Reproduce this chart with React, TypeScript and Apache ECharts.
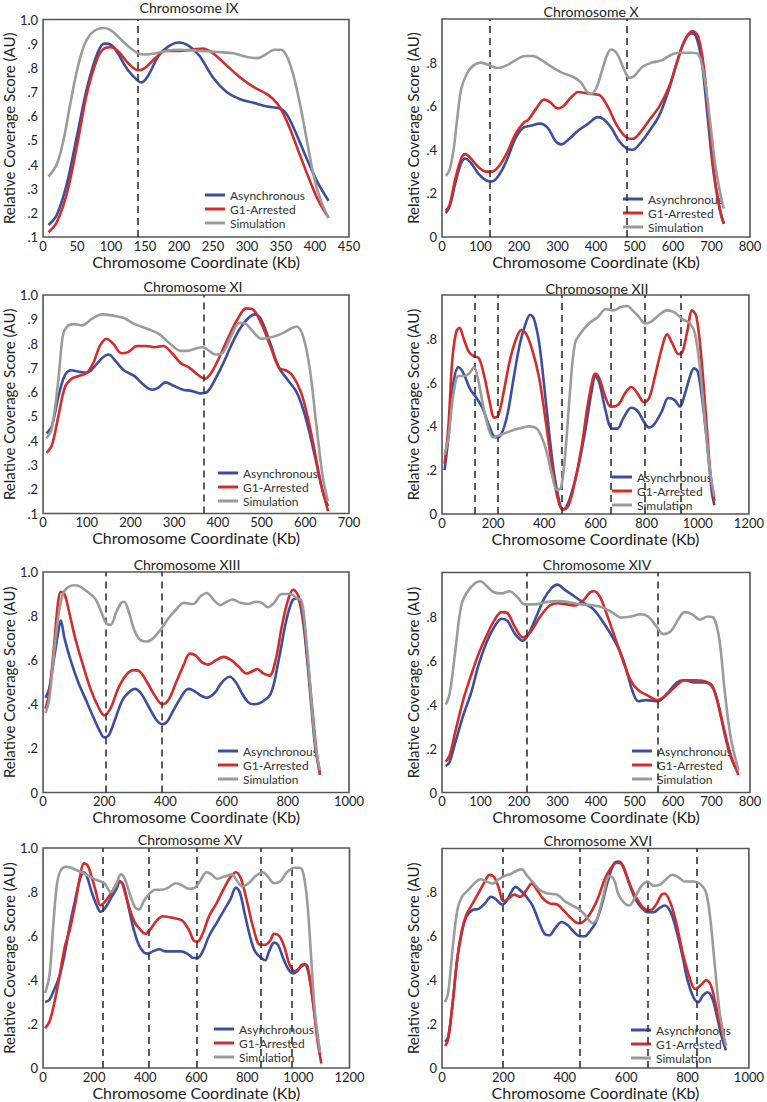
import React, { useEffect, useRef } from 'react';
import * as echarts from 'echarts';

// ---------- data ----------
const seriesNames = ['Asynchronous', 'G1-Arrested', 'Simulation'];
const chromTitles = ['Chromosome IX', 'Chromosome X', 'Chromosome XI', 'Chromosome XII', 'Chromosome XIII', 'Chromosome XIV', 'Chromosome XV', 'Chromosome XVI'];
const xMaxes = [450, 800, 700, 1200, 1000, 800, 1200, 1000];
const xIntervals = [50, 100, 100, 200, 200, 100, 200, 200];
const yMins = [0.1, 0, 0.1, 0, 0, 0, 0, 0];
const yIntervals = [0.1, 0.2, 0.1, 0.2, 0.2, 0.2, 0.2, 0.2];
const showTopLabel = [true, false, true, false, true, false, true, false];
const xAxisName = 'Chromosome Coordinate (Kb)';
const yAxisName = 'Relative Coverage Score (AU)';

const dashIX = [140];
const dashX = [123, 481];
const dashXI = [368];
const dashXII = [128, 218, 468, 661, 792, 932];
const dashXIII = [206, 388];
const dashXIV = [219, 561];
const dashXV = [233, 415, 603, 853, 973];
const dashXVI = [199, 449, 669, 830];

const asyncIX = [[8,.15],[20,.19],[35,.32],[50,.52],[65,.72],[80,.86],[90,.9],[100,.895],[110,.86],[125,.79],[140,.745],[145,.74],[155,.77],[170,.85],[185,.89],[200,.905],[215,.89],[230,.85],[250,.76],[270,.7],[290,.67],[310,.655],[330,.64],[350,.63],[360,.6],[375,.51],[390,.41],[405,.32],[420,.25]];
const g1IX = [[8,.12],[20,.16],[35,.28],[50,.48],[65,.7],[80,.84],[90,.88],[100,.885],[110,.87],[125,.82],[140,.79],[150,.8],[165,.84],[180,.87],[200,.87],[220,.875],[235,.88],[250,.86],[270,.81],[290,.76],[310,.72],[330,.69],[345,.65],[360,.57],[375,.46],[390,.35],[405,.25],[420,.18]];
const simIX = [[8,.35],[20,.4],[30,.5],[40,.65],[50,.79],[60,.89],[70,.94],[80,.96],[90,.965],[100,.955],[110,.93],[125,.89],[140,.86],[150,.855],[165,.86],[180,.87],[200,.875],[230,.87],[260,.865],[280,.86],[300,.845],[315,.84],[330,.86],[340,.875],[350,.875],[360,.84],[370,.75],[380,.62],[390,.47],[400,.33],[410,.24],[420,.18]];

const asyncX = [[10,.11],[20,.14],[35,.25],[50,.34],[60,.36],[75,.34],[95,.29],[115,.26],[130,.255],[150,.29],[170,.36],[190,.45],[210,.5],[230,.51],[255,.52],[275,.5],[295,.44],[310,.425],[330,.45],[355,.49],[380,.52],[405,.55],[420,.54],[440,.5],[460,.44],[480,.405],[495,.4],[515,.43],[540,.49],[565,.56],[590,.68],[610,.8],[630,.9],[648,.935],[660,.92],[675,.8],[690,.55],[705,.3],[720,.14],[732,.06]];
const g1X = [[10,.12],[20,.15],[35,.27],[50,.36],[60,.38],[75,.36],[95,.32],[115,.3],[130,.3],[150,.33],[170,.39],[190,.47],[210,.52],[225,.54],[245,.59],[265,.63],[280,.62],[300,.59],[315,.6],[335,.64],[355,.665],[375,.66],[395,.655],[410,.65],[430,.6],[455,.51],[480,.455],[495,.45],[515,.48],[540,.54],[565,.6],[590,.69],[610,.8],[630,.9],[650,.945],[665,.92],[680,.78],[695,.5],[710,.25],[725,.1],[732,.06]];
const simX = [[10,.28],[20,.31],[30,.4],[40,.55],[50,.68],[65,.75],[80,.785],[100,.8],[120,.79],[145,.775],[165,.785],[190,.81],[215,.83],[235,.83],[260,.81],[285,.78],[310,.755],[340,.735],[360,.71],[375,.67],[385,.655],[400,.68],[415,.76],[430,.84],[440,.86],[455,.84],[470,.78],[487,.73],[500,.74],[520,.78],[545,.8],[570,.81],[600,.84],[630,.845],[650,.845],[665,.84],[680,.75],[695,.55],[710,.33],[725,.18],[732,.13]];

const asyncXI = [[8,.43],[20,.46],[35,.58],[50,.67],[65,.69],[80,.685],[100,.68],[115,.7],[135,.74],[150,.755],[165,.73],[185,.69],[210,.665],[230,.63],[250,.61],[265,.62],[280,.64],[300,.625],[320,.61],[340,.605],[360,.595],[375,.6],[390,.64],[410,.71],[430,.79],[450,.86],[470,.905],[485,.92],[500,.895],[520,.8],[540,.7],[560,.65],[580,.6],[595,.53],[610,.43],[625,.31],[640,.19],[652,.13]];
const g1XI = [[8,.35],[20,.38],[35,.5],[50,.62],[65,.655],[80,.665],[100,.68],[115,.72],[130,.79],[145,.82],[160,.8],[180,.76],[195,.765],[215,.79],[235,.79],[255,.785],[275,.79],[295,.76],[315,.72],[335,.7],[355,.67],[370,.655],[385,.68],[405,.75],[425,.83],[445,.9],[465,.945],[480,.94],[500,.88],[520,.79],[540,.7],[555,.69],[570,.67],[590,.6],[605,.5],[620,.37],[635,.23],[652,.11]];
const simXI = [[8,.41],[20,.45],[35,.65],[45,.83],[55,.87],[70,.88],[90,.875],[110,.9],[135,.92],[160,.915],[185,.905],[210,.88],[240,.86],[265,.84],[290,.8],[315,.77],[330,.77],[350,.78],[365,.785],[380,.77],[395,.755],[410,.76],[430,.83],[450,.885],[465,.88],[480,.85],[500,.82],[520,.825],[545,.84],[565,.86],[580,.87],[595,.83],[610,.7],[625,.47],[640,.25],[652,.15]];

const asyncXII = [[10,.2],[25,.35],[45,.6],[65,.67],[85,.64],[110,.57],[135,.53],[160,.48],[185,.4],[210,.35],[230,.36],[255,.45],[280,.62],[305,.78],[330,.88],[345,.91],[360,.89],[380,.78],[400,.58],[420,.36],[440,.17],[460,.05],[470,.02],[485,.03],[505,.09],[530,.2],[560,.38],[585,.56],[600,.63],[615,.6],[640,.47],[665,.39],[685,.39],[710,.44],[740,.485],[765,.47],[790,.42],[810,.395],[830,.41],[860,.47],[885,.53],[910,.52],[930,.49],[950,.55],[970,.63],[985,.665],[1000,.65],[1020,.5],[1040,.28],[1055,.1],[1065,.04]];
const g1XII = [[10,.23],[25,.4],[40,.7],[55,.83],[68,.85],[85,.8],[105,.74],[125,.72],[145,.71],[165,.63],[185,.52],[205,.44],[220,.45],[240,.55],[265,.7],[290,.8],[310,.84],[330,.82],[355,.74],[380,.62],[400,.47],[420,.3],[440,.14],[460,.04],[475,.02],[495,.04],[520,.15],[545,.3],[570,.5],[590,.62],[600,.64],[615,.62],[640,.53],[660,.49],[690,.5],[715,.55],[740,.58],[765,.55],[790,.51],[810,.53],[835,.64],[860,.76],[880,.82],[900,.78],[925,.73],[940,.74],[960,.84],[978,.93],[995,.9],[1015,.7],[1035,.4],[1050,.18],[1065,.06]];
const simXII = [[10,.27],[25,.35],[45,.55],[65,.63],[85,.63],[105,.64],[125,.67],[140,.62],[160,.5],[180,.4],[200,.35],[225,.36],[260,.375],[300,.39],[340,.4],[370,.39],[390,.35],[410,.28],[430,.18],[450,.11],[465,.12],[480,.25],[500,.55],[520,.78],[545,.83],[575,.87],[610,.9],[640,.935],[670,.93],[700,.945],[725,.95],[745,.93],[770,.9],[795,.87],[820,.88],[850,.91],[880,.93],[910,.92],[940,.89],[970,.87],[990,.82],[1010,.65],[1030,.4],[1050,.18],[1065,.08]];

const asyncXIII = [[8,.43],[20,.47],[35,.6],[50,.73],[58,.78],[70,.7],[90,.6],[115,.5],[140,.42],[165,.34],[185,.28],[200,.25],[215,.26],[235,.33],[260,.42],[285,.46],[300,.47],[320,.45],[345,.39],[370,.33],[390,.31],[405,.32],[425,.37],[450,.43],[475,.47],[495,.46],[515,.44],[535,.43],[560,.45],[585,.5],[610,.525],[630,.5],[650,.45],[670,.41],[690,.4],[715,.41],[745,.45],[770,.6],[795,.78],[815,.87],[830,.88],[845,.82],[860,.65],[875,.42],[890,.2],[905,.09]];
const g1XIII = [[8,.38],[20,.45],[35,.65],[48,.85],[58,.91],[70,.9],[85,.82],[105,.7],[130,.58],[155,.47],[180,.39],[200,.35],[220,.38],[245,.47],[270,.53],[295,.555],[315,.55],[340,.5],[365,.44],[390,.4],[410,.42],[435,.5],[460,.58],[480,.63],[500,.62],[520,.59],[540,.58],[565,.6],[590,.615],[615,.6],[640,.57],[665,.54],[685,.55],[700,.56],[720,.54],[740,.53],[760,.6],[780,.75],[800,.87],[818,.92],[835,.89],[850,.8],[865,.6],[880,.38],[895,.17],[905,.08]];
const simXIII = [[8,.36],[20,.42],[35,.62],[50,.8],[65,.9],[80,.93],[100,.94],[120,.935],[145,.91],[170,.88],[190,.82],[205,.77],[220,.76],[240,.82],[255,.86],[265,.865],[280,.82],[300,.73],[320,.69],[340,.685],[360,.7],[385,.74],[410,.79],[435,.83],[460,.86],[490,.855],[515,.89],[535,.905],[560,.87],[580,.85],[600,.865],[620,.875],[645,.86],[670,.855],[695,.865],[715,.86],[735,.84],[755,.86],[780,.9],[810,.9],[830,.88],[845,.87],[860,.7],[875,.45],[890,.22],[905,.1]];

const asyncXIV = [[10,.12],[20,.14],[35,.23],[55,.35],[75,.45],[95,.58],[115,.68],[135,.75],[155,.79],[170,.78],[190,.72],[210,.69],[225,.72],[245,.8],[265,.88],[285,.93],[300,.945],[320,.92],[345,.89],[370,.86],[395,.83],[420,.77],[445,.7],[465,.63],[480,.55],[495,.46],[510,.415],[530,.42],[560,.415],[585,.45],[610,.5],[630,.51],[655,.5],[680,.5],[700,.49],[715,.42],[730,.3],[745,.19],[760,.12],[770,.1]];
const g1XIV = [[10,.14],[20,.17],[35,.28],[55,.42],[75,.53],[95,.63],[115,.71],[135,.78],[155,.82],[170,.815],[190,.75],[210,.705],[230,.73],[255,.8],[280,.85],[300,.86],[325,.855],[345,.85],[365,.87],[385,.91],[395,.915],[410,.89],[430,.8],[450,.7],[470,.6],[490,.51],[510,.465],[535,.44],[560,.42],[580,.44],[605,.48],[630,.51],[660,.51],[690,.5],[705,.47],[720,.38],[735,.27],[750,.17],[770,.08]];
const simXIV = [[10,.4],[20,.45],[35,.65],[50,.85],[65,.91],[85,.95],[100,.96],[115,.94],[135,.91],[155,.905],[175,.915],[195,.89],[215,.855],[240,.855],[270,.865],[300,.87],[330,.865],[360,.855],[395,.85],[420,.84],[445,.815],[465,.795],[490,.8],[515,.81],[535,.8],[555,.76],[575,.72],[595,.735],[615,.79],[630,.82],[650,.81],[670,.785],[690,.8],[705,.795],[720,.7],[735,.45],[750,.25],[770,.1]];

const asyncXV = [[8,.3],[25,.31],[45,.36],[65,.42],[85,.52],[105,.65],[125,.76],[145,.86],[160,.89],[175,.86],[190,.8],[210,.74],[225,.71],[245,.73],[265,.77],[290,.82],[300,.85],[315,.83],[335,.73],[355,.63],[375,.56],[395,.525],[410,.52],[430,.53],[455,.54],[480,.53],[510,.53],[540,.53],[565,.52],[590,.5],[605,.5],[625,.53],[650,.6],[680,.66],[710,.72],[735,.77],[755,.82],[770,.8],[790,.7],[810,.6],[830,.53],[855,.5],[870,.49],[885,.53],[905,.57],[920,.56],[940,.5],[960,.45],[980,.43],[995,.44],[1010,.46],[1025,.47],[1040,.43],[1055,.32],[1070,.18],[1085,.06]];
const g1XV = [[8,.18],[25,.21],[45,.3],[65,.42],[85,.55],[105,.63],[125,.74],[145,.87],[160,.93],[175,.92],[190,.87],[205,.81],[225,.74],[245,.76],[270,.8],[290,.84],[305,.845],[320,.8],[340,.72],[360,.66],[380,.63],[400,.61],[420,.63],[445,.67],[470,.69],[495,.685],[520,.68],[545,.67],[570,.63],[590,.58],[605,.575],[625,.61],[650,.69],[680,.75],[710,.82],[735,.87],[755,.89],[775,.86],[800,.75],[825,.63],[850,.56],[870,.56],[890,.58],[905,.61],[925,.6],[945,.55],[965,.47],[985,.44],[1000,.45],[1015,.47],[1030,.47],[1045,.4],[1060,.27],[1075,.12],[1090,.02]];
const simXV = [[8,.34],[25,.42],[40,.65],[55,.84],[70,.9],[90,.915],[110,.91],[130,.9],[150,.89],[175,.875],[200,.86],[220,.85],[240,.84],[265,.8],[285,.83],[305,.88],[320,.86],[340,.79],[360,.73],[375,.72],[395,.76],[415,.79],[440,.81],[465,.81],[490,.82],[520,.84],[545,.83],[570,.815],[595,.82],[615,.85],[640,.89],[660,.88],[680,.86],[710,.87],[740,.88],[760,.85],[780,.825],[805,.84],[835,.875],[860,.89],[880,.87],[905,.84],[930,.85],[955,.89],[985,.91],[1005,.91],[1020,.88],[1035,.75],[1050,.5],[1065,.25],[1085,.07]];

const asyncXVI = [[10,.12],[20,.14],[35,.3],[50,.5],[65,.62],[80,.69],[100,.72],[120,.725],[140,.75],[160,.78],[175,.77],[195,.745],[210,.76],[225,.8],[240,.825],[255,.81],[275,.78],[295,.74],[315,.67],[335,.61],[350,.605],[370,.64],[390,.665],[410,.65],[430,.62],[450,.6],[465,.6],[480,.62],[500,.66],[520,.74],[540,.85],[560,.93],[575,.94],[590,.92],[610,.84],[630,.77],[650,.73],[670,.71],[690,.71],[710,.73],[725,.74],[745,.71],[765,.62],[785,.5],[800,.4],[820,.32],[835,.3],[850,.33],[865,.345],[880,.32],[895,.24],[910,.15],[925,.08]];
const g1XVI = [[10,.1],[20,.13],[35,.3],[50,.5],[65,.63],[80,.7],[100,.75],[120,.8],[140,.85],[155,.88],[170,.87],[185,.82],[200,.76],[215,.77],[235,.79],[255,.78],[275,.81],[292,.84],[310,.81],[330,.77],[350,.75],[375,.745],[395,.72],[415,.69],[435,.665],[450,.66],[470,.68],[490,.72],[510,.78],[530,.86],[550,.91],[570,.935],[585,.93],[600,.88],[620,.81],[640,.76],[660,.725],[680,.72],[700,.75],[715,.79],[725,.795],[745,.75],[765,.65],[785,.52],[805,.42],[825,.36],[845,.38],[860,.4],[875,.38],[890,.3],[905,.2],[925,.1]];
const simXVI = [[10,.3],[20,.34],[35,.55],[50,.72],[65,.78],[85,.81],[105,.84],[125,.86],[145,.85],[165,.84],[185,.86],[205,.875],[225,.885],[245,.9],[260,.905],[275,.88],[300,.84],[320,.81],[345,.795],[375,.79],[400,.76],[425,.74],[450,.72],[470,.69],[490,.66],[505,.68],[525,.78],[545,.875],[560,.86],[575,.79],[595,.75],[610,.74],[630,.78],[650,.83],[670,.85],[690,.83],[710,.835],[730,.86],[750,.88],[770,.87],[790,.85],[820,.85],[840,.84],[860,.8],[875,.67],[890,.45],[905,.25],[925,.1]];

const asyncAll = [asyncIX, asyncX, asyncXI, asyncXII, asyncXIII, asyncXIV, asyncXV, asyncXVI];
const g1All = [g1IX, g1X, g1XI, g1XII, g1XIII, g1XIV, g1XV, g1XVI];
const simAll = [simIX, simX, simXI, simXII, simXIII, simXIV, simXV, simXVI];
const dashAll = [dashIX, dashX, dashXI, dashXII, dashXIII, dashXIV, dashXV, dashXVI];

// ---------- layout ----------
const gridLeft = [41, 442, 41, 442, 41, 442, 41, 442];
const gridTop = [19.5, 19, 295, 295, 572, 572.5, 848, 848.5];
const gridWidth = [308, 308, 308, 309, 308, 308, 308.5, 309];
const gridHeight = [217.5, 218, 218.5, 219, 220.5, 220, 220, 219.5];
const titleX = [189, 591, 193, 597, 187, 597, 190, 598];
const titleY = [7.5, 11.5, 286, 288.5, 564, 564, 839.5, 840];
const legendLeft = [205, 623, 218, 612, 218, 632, 214, 631];
const legendFirstY = [195, 199, 473, 477, 751, 751, 1029, 1030];

const COLORS = ['#3b4ea0', '#d42b2b', '#9b9b9b'];
const FONT = 'Lato, "Open Sans", sans-serif';

function fmtY(top: boolean) {
  return (v: number) => {
    const r = Math.round(v * 10);
    if (r === 0) return '0';
    if (r >= 10) return top ? '1.0' : '';
    return '.' + r;
  };
}

export default function App() {
  const ref = useRef<HTMLDivElement>(null);
  useEffect(() => {
    document.body.style.margin = '0';
    if (!ref.current) return;
    const chart = echarts.init(ref.current, null, { renderer: 'svg' });
    const grids: any[] = [];
    const xAxes: any[] = [];
    const yAxes: any[] = [];
    const series: any[] = [];
    const legends: any[] = [];
    const graphics: any[] = [];
    for (let i = 0; i < 8; i++) {
      const rightCol = i % 2 === 1;
      grids.push({
        left: gridLeft[i], top: gridTop[i], width: gridWidth[i], height: gridHeight[i],
        show: true, borderColor: '#555', borderWidth: 1.6, backgroundColor: 'transparent', containLabel: false,
      });
      xAxes.push({
        type: 'value', gridIndex: i, min: 0, max: xMaxes[i], interval: xIntervals[i],
        axisLine: { show: false }, axisTick: { show: false }, splitLine: { show: false },
        axisLabel: { fontSize: 13, lineHeight: 13, color: '#222', margin: 2, fontFamily: FONT, formatter: (v: number) => String(v) },
        name: xAxisName, nameLocation: 'middle', nameGap: 16,
        nameTextStyle: { fontSize: 16, lineHeight: 16, color: '#222', fontFamily: FONT },
      });
      yAxes.push({
        type: 'value', gridIndex: i, min: yMins[i], max: 1, interval: yIntervals[i],
        axisLine: { show: false }, axisTick: { show: false }, splitLine: { show: false },
        axisLabel: { fontSize: 13, lineHeight: 13, color: '#222', margin: 5, fontFamily: FONT, formatter: fmtY(showTopLabel[i]) },
        name: yAxisName, nameLocation: 'middle', nameGap: rightCol ? 22 : 25,
        nameTextStyle: { fontSize: 15, lineHeight: 15, color: '#222', fontFamily: FONT },
      });
      const sets = [asyncAll[i], g1All[i], simAll[i]];
      sets.forEach((d, k) => {
        const s: any = {
          type: 'line', name: seriesNames[k], xAxisIndex: i, yAxisIndex: i, data: d,
          showSymbol: false, symbol: 'none', smooth: 0.35,
          lineStyle: { color: COLORS[k], width: 2.6 }, itemStyle: { color: COLORS[k] },
          z: 3 + k,
        };
        if (k === 2) {
          s.markLine = {
            silent: true, symbol: ['none', 'none'], label: { show: false },
            lineStyle: { color: '#333', width: 1.6, type: [7, 5] },
            data: dashAll[i].map((x) => ({ xAxis: x })),
          };
        }
        series.push(s);
      });
      legends.push({
        data: seriesNames, orient: 'vertical', left: legendLeft[i], top: legendFirstY[i] - 7,
        icon: 'rect', itemWidth: 20, itemHeight: 3, itemGap: 0, padding: 0, selectedMode: false,
        textStyle: { fontSize: 12, lineHeight: 14, color: '#333', fontFamily: FONT },
      });
      graphics.push({
        type: 'text', x: titleX[i], y: titleY[i],
        style: { text: chromTitles[i], align: 'center', verticalAlign: 'middle', fontSize: 14, fontFamily: FONT, fill: '#222' },
      });
    }
    chart.setOption({
      animation: false,
      backgroundColor: '#fff',
      grid: grids, xAxis: xAxes, yAxis: yAxes, series, legend: legends, graphic: graphics,
    });
    return () => chart.dispose();
  }, []);
  return <div ref={ref} style={{ width: 767, height: 1102 }} />;
}
